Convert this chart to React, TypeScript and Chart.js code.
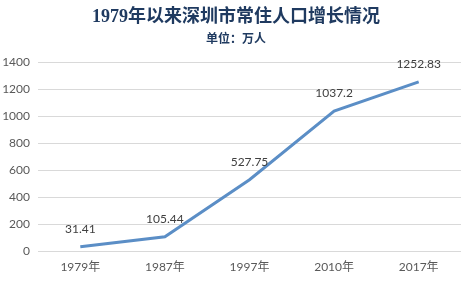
import React, { useEffect, useRef } from "react";
import { Chart, registerables } from "chart.js";

Chart.register(...registerables);

const categories = ["1979年", "1987年", "1997年", "2010年", "2017年"];
const population = [31.41, 105.44, 527.75, 1037.2, 1252.83];
const populationLabels = ["31.41", "105.44", "527.75", "1037.2", "1252.83"];
const titleText = "1979年以来深圳市常住人口增长情况";
const subtitleText = "单位：万人";

const headerPlugin = {
  id: "header",
  afterDraw(chart: any) {
    const ctx = chart.ctx;
    const w = chart.width;
    ctx.save();
    ctx.textAlign = "center";
    ctx.textBaseline = "middle";
    ctx.fillStyle = "#1f3a60";
    ctx.font = 'bold 18px "Liberation Serif", "Noto Sans CJK SC", serif';
    ctx.fillText(titleText, w / 2, 17);
    ctx.font = 'bold 12px "Noto Sans CJK SC", sans-serif';
    ctx.fillText(subtitleText, w / 2, 38);
    ctx.restore();
  },
};

const labelPlugin = {
  id: "pointLabels",
  afterDatasetsDraw(chart: any) {
    const ctx = chart.ctx;
    const meta = chart.getDatasetMeta(0);
    ctx.save();
    ctx.textAlign = "center";
    ctx.textBaseline = "middle";
    ctx.fillStyle = "#404040";
    ctx.font = '12px Lato, sans-serif';
    meta.data.forEach((pt: any, i: number) => {
      ctx.fillText(populationLabels[i], pt.x, pt.y - 18);
    });
    ctx.restore();
  },
};

export default function App() {
  const ref = useRef<HTMLCanvasElement>(null);
  useEffect(() => {
    document.body.style.margin = "0";
    const chart = new Chart(ref.current!, {
      type: "line",
      data: {
        labels: categories,
        datasets: [
          {
            data: population,
            borderColor: "#5b8ec6",
            borderWidth: 3,
            pointRadius: 0,
            tension: 0,
            fill: false,
          },
        ],
      },
      options: {
        animation: false,
        responsive: false,
        layout: { padding: { top: 62, left: 0, right: 11, bottom: 0 } },
        plugins: { legend: { display: false }, tooltip: { enabled: false } },
        scales: {
          x: {
            offset: true,
            grid: { display: false, drawTicks: false },
            border: { display: false },
            ticks: {
              color: "#595959",
              font: { family: 'Lato, "Noto Sans CJK SC", sans-serif', size: 12 },
              padding: 9,
              maxRotation: 0,
            },
            afterFit(scale: any) {
              scale.height = 31;
            },
          },
          y: {
            min: 0,
            max: 1400,
            grid: { color: "#d9d9d9", drawTicks: false },
            border: { display: false },
            ticks: {
              stepSize: 200,
              color: "#595959",
              font: { family: 'Lato, sans-serif', size: 12 },
              padding: 8,
              callback: (v: any) => String(v),
            },
            afterFit(scale: any) {
              scale.width = 38;
            },
          },
        },
      },
      plugins: [headerPlugin, labelPlugin],
    });
    return () => chart.destroy();
  }, []);
  return <canvas ref={ref} width={472} height={282} style={{ display: "block" }} />;
}
